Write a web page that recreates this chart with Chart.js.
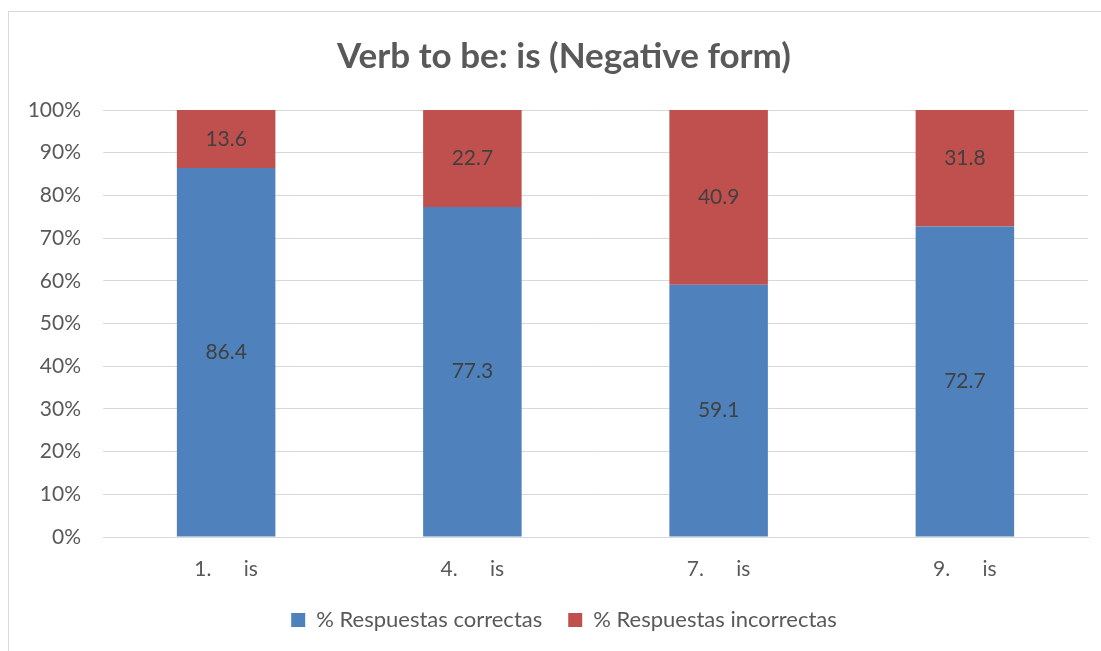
<!DOCTYPE html>
<html>
<head>
<meta charset="utf-8">
<script src="https://cdn.jsdelivr.net/npm/chart.js@4"></script>
<style>
  body { margin: 0; background: #fff; overflow: hidden; }
  #frame {
    position: absolute;
    left: 8px;
    top: 11px;
    width: 1110px;
    height: 650px;
    border: 1px solid #d9d9d9;
  }
</style>
</head>
<body>
<div id="frame"><canvas id="myChart"></canvas></div>
<script>
  // Data
  const categories = ["1.      is", "4.      is", "7.      is", "9.      is"];
  const correctas = [86.4, 77.3, 59.1, 72.7];
  const incorrectas = [13.6, 22.7, 40.9, 31.8];
  const seriesNames = ["% Respuestas correctas", "% Respuestas incorrectas"];

  const FONT = "Lato, 'Liberation Sans', sans-serif";
  const TEXT = "#595959";

  // draw value in the middle of each bar segment
  const barLabels = {
    id: "barLabels",
    afterDatasetsDraw(chart) {
      const ctx = chart.ctx;
      ctx.save();
      ctx.font = "21px " + FONT;
      ctx.fillStyle = "#404040";
      ctx.textAlign = "center";
      ctx.textBaseline = "middle";
      chart.data.datasets.forEach((ds, i) => {
        chart.getDatasetMeta(i).data.forEach((bar, j) => {
          const y = (bar.y + bar.base) / 2;
          ctx.fillText(ds.data[j].toFixed(1), bar.x, y);
        });
      });
      ctx.restore();
    },
  };

  const ctx = document.getElementById("myChart");
  new Chart(ctx, {
    type: "bar",
    data: {
      labels: categories,
      datasets: [
        {
          label: seriesNames[0],
          data: correctas,
          backgroundColor: "#4F81BD",
          barPercentage: 0.4,
          categoryPercentage: 1,
        },
        {
          label: seriesNames[1],
          data: incorrectas,
          backgroundColor: "#C0504D",
          barPercentage: 0.4,
          categoryPercentage: 1,
        },
      ],
    },
    options: {
      responsive: true,
      maintainAspectRatio: false,
      animation: false,
      layout: { padding: { top: 0, bottom: 21, left: 0, right: 0 } },
      scales: {
        x: {
          stacked: true,
          grid: { display: false, drawTicks: false },
          border: { color: "#d9d9d9", width: 1 },
          ticks: { color: TEXT, font: { family: FONT, size: 21 }, padding: 20 },
          afterFit: (s) => { s.height = 46; },
        },
        y: {
          stacked: true,
          min: 0,
          max: 100,
          grid: { color: "#d9d9d9", drawTicks: false },
          border: { display: false },
          ticks: {
            stepSize: 10,
            color: TEXT,
            font: { family: FONT, size: 21 },
            padding: 22,
            callback: (v) => v + "%",
          },
          afterFit: (s) => { s.width = 94; },
        },
        yRight: {
          position: "right",
          display: true,
          grid: { display: false },
          border: { display: false },
          ticks: { display: false },
          afterFit: (s) => { s.width = 31; },
        },
      },
      plugins: {
        title: {
          display: true,
          text: "Verb to be: is (Negative form)",
          color: TEXT,
          font: { family: FONT, size: 35, weight: "bold" },
          padding: { top: 24, bottom: 32 },
        },
        legend: {
          position: "bottom",
          labels: {
            color: TEXT,
            font: { family: FONT, size: 22 },
            boxWidth: 14,
            boxHeight: 14,
            padding: 26,
          },
        },
        tooltip: { enabled: false },
      },
    },
    plugins: [barLabels],
  });
</script>
</body>
</html>
